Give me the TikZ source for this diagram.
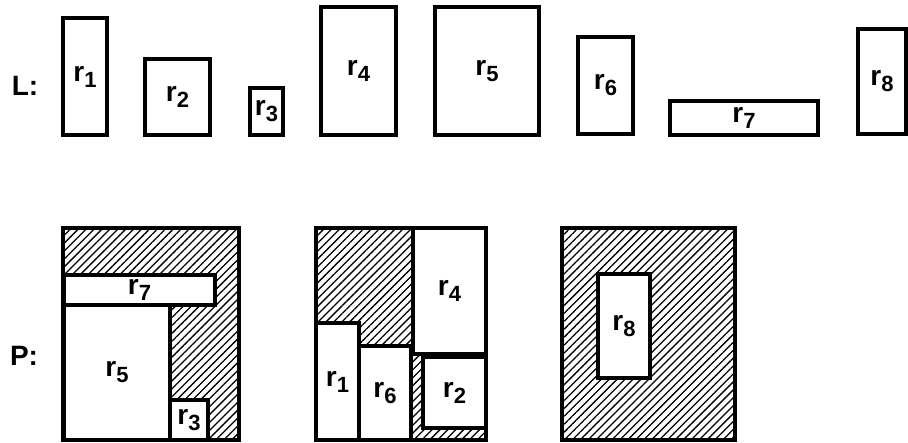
\documentclass[tikz,border=0pt]{standalone}
\usepackage{fontspec}
\setmainfont{Liberation Sans}
\usetikzlibrary{patterns.meta}
\newcommand{\rsub}[1]{r\raisebox{-6pt}{\fontsize{22}{22}\selectfont #1}}

\begin{document}
\begin{tikzpicture}[x=1pt,y=-1pt,
  every node/.style={font=\fontsize{28}{30}\selectfont\bfseries},
  rect/.style={draw,line width=3.2pt,fill=white,inner sep=0pt},
  bin/.style={draw,line width=3.6pt,inner sep=0pt,
    pattern={Lines[angle=45,distance=5.6pt,line width=1.3pt]}}]
  \useasboundingbox (0,0) rectangle (908,442);

  \node (L) at (25,86) {L:};
  \node[rect,minimum width=44pt,minimum height=117pt] (r1) at (85,76.5) {\rsub{1}};
  \node[rect,minimum width=65pt,minimum height=76pt] (r2) at (177.5,97) {\rsub{2}};
  \node[rect,minimum width=33pt,minimum height=47pt] (r3) at (266.5,111.5) {\rsub{3}};
  \node[rect,minimum width=75pt,minimum height=128pt] (r4) at (358.5,71) {\rsub{4}};
  \node[rect,minimum width=104pt,minimum height=128pt] (r5) at (487,71) {\rsub{5}};
  \node[rect,minimum width=55pt,minimum height=97pt] (r6) at (605.5,85.5) {\rsub{6}};
  \node[rect,minimum width=148pt,minimum height=34pt] (r7) at (744,118) {\rsub{7}};
  \node[rect,minimum width=48pt,minimum height=105pt] (r8) at (882,81.5) {\rsub{8}};

  \node (P) at (24,356) {P:};
  \node[bin,minimum width=176pt,minimum height=212pt] (bin1) at (151,334) {};
  \node[bin,minimum width=170pt,minimum height=212pt] (bin2) at (401,334) {};
  \node[bin,minimum width=173pt,minimum height=212pt] (bin3) at (648.5,334) {};

  \node[rect,minimum width=151pt,minimum height=30pt] (r7b) at (139.5,290) {\rsub{7}};
  \node[rect,minimum width=106pt,minimum height=135pt] (r5b) at (117,372.5) {\rsub{5}};
  \node[rect,minimum width=38pt,minimum height=40pt] (r3b) at (189,420) {\rsub{3}};

  \node[rect,minimum width=73pt,minimum height=126pt] (r4b) at (449.5,291) {\rsub{4}};
  \node[rect,minimum width=63pt,minimum height=71pt] (r2b) at (454.5,392.5) {\rsub{2}};
  \node[rect,minimum width=43pt,minimum height=117pt] (r1b) at (337.5,381.5) {\rsub{1}};
  \node[rect,minimum width=52pt,minimum height=94pt] (r6b) at (385,393) {\rsub{6}};

  \node[rect,minimum width=52pt,minimum height=104pt] (r8b) at (624,326) {\rsub{8}};
\end{tikzpicture}
\end{document}
